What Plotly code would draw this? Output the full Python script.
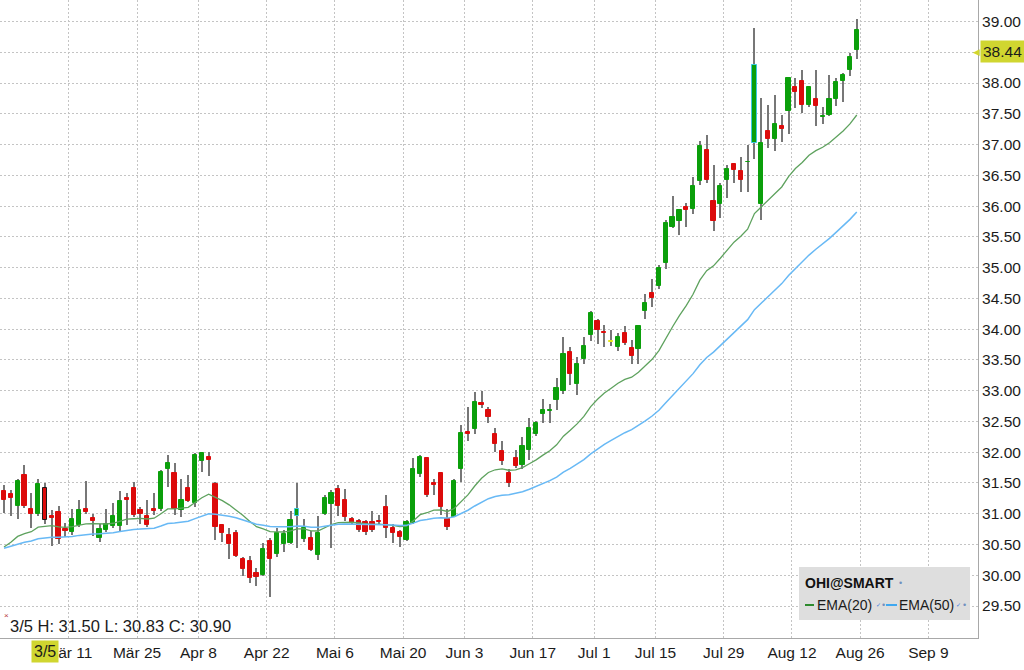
import numpy as np
import plotly.graph_objects as go

# ---------------- data ----------------
DATES = [
    "2024-02-26", "2024-02-27", "2024-02-28", "2024-02-29",
    "2024-03-01", "2024-03-04", "2024-03-05", "2024-03-06", "2024-03-07", "2024-03-08",
    "2024-03-11", "2024-03-12", "2024-03-13", "2024-03-14", "2024-03-15",
    "2024-03-18", "2024-03-19", "2024-03-20", "2024-03-21", "2024-03-22",
    "2024-03-25", "2024-03-26", "2024-03-27", "2024-03-28",
    "2024-04-01", "2024-04-02", "2024-04-03", "2024-04-04", "2024-04-05",
    "2024-04-08", "2024-04-09", "2024-04-10", "2024-04-11", "2024-04-12",
    "2024-04-15", "2024-04-16", "2024-04-17", "2024-04-18", "2024-04-19",
    "2024-04-22", "2024-04-23", "2024-04-24", "2024-04-25", "2024-04-26",
    "2024-04-29", "2024-04-30",
    "2024-05-01", "2024-05-02", "2024-05-03",
    "2024-05-06", "2024-05-07", "2024-05-08", "2024-05-09", "2024-05-10",
    "2024-05-13", "2024-05-14", "2024-05-15", "2024-05-16", "2024-05-17",
    "2024-05-20", "2024-05-21", "2024-05-22", "2024-05-23", "2024-05-24",
    "2024-05-28", "2024-05-29", "2024-05-30", "2024-05-31",
    "2024-06-03", "2024-06-04", "2024-06-05", "2024-06-06", "2024-06-07",
    "2024-06-10", "2024-06-11", "2024-06-12", "2024-06-13", "2024-06-14",
    "2024-06-17", "2024-06-18", "2024-06-20", "2024-06-21",
    "2024-06-24", "2024-06-25", "2024-06-26", "2024-06-27", "2024-06-28",
    "2024-07-01", "2024-07-02", "2024-07-03", "2024-07-05",
    "2024-07-08", "2024-07-09", "2024-07-10", "2024-07-11", "2024-07-12",
    "2024-07-15", "2024-07-16", "2024-07-17", "2024-07-18", "2024-07-19",
    "2024-07-22", "2024-07-23", "2024-07-24", "2024-07-25", "2024-07-26",
    "2024-07-29", "2024-07-30", "2024-07-31",
    "2024-08-01", "2024-08-02",
    "2024-08-05", "2024-08-06", "2024-08-07", "2024-08-08", "2024-08-09",
    "2024-08-12", "2024-08-13", "2024-08-14", "2024-08-15", "2024-08-16",
    "2024-08-19", "2024-08-20", "2024-08-21", "2024-08-22", "2024-08-23",
]

OPEN = [
    31.37, 31.32, 31.12, 31.63, 31.07, 31.00, 31.42, 30.96, 31.02, 30.75,
    30.70, 30.81, 31.07, 30.93, 30.60, 30.74, 30.80, 30.80, 31.26, 31.42,
    31.06, 30.96, 31.08, 31.07, 31.72, 31.67, 31.06, 31.42, 31.17, 31.86,
    31.93, 31.49, 30.81, 30.65, 30.69, 30.26, 30.23, 30.04, 30.00, 30.56,
    30.35, 30.50, 30.53, 30.96, 30.59, 30.61, 30.33, 31.00, 31.15, 31.41,
    31.23, 30.91, 30.88, 30.87, 30.87, 30.88, 31.11, 30.76, 30.70, 30.57,
    30.85, 31.65, 31.90, 31.50, 31.66, 30.91, 30.95, 31.72, 32.33, 32.37,
    32.80, 32.68, 32.29, 32.02, 31.66, 31.91, 31.80, 32.03, 32.29, 32.62,
    32.67, 32.85, 32.99, 33.63, 33.11, 33.52, 33.90, 34.13, 33.96, 33.79,
    33.71, 33.93, 33.69, 33.67, 34.30, 34.58, 34.70, 35.07, 35.66, 35.76,
    35.99, 35.96, 36.40, 36.91, 36.08, 36.03, 36.42, 36.68, 36.57, 36.71,
    37.02, 36.04, 37.22, 37.09, 37.30, 37.54, 37.93, 38.03, 37.65, 37.74,
    37.45, 37.48, 37.74, 38.04, 38.21, 38.54,
]
HIGH = [
    31.46, 31.39, 31.56, 31.79, 31.34, 31.56, 31.50, 31.06, 31.12, 30.85,
    31.07, 31.22, 31.54, 30.99, 30.84, 31.07, 31.17, 31.37, 31.34, 31.52,
    31.11, 31.22, 31.34, 31.71, 31.95, 31.82, 31.57, 31.63, 31.98, 32.00,
    32.00, 31.52, 30.84, 30.76, 30.74, 30.29, 30.31, 30.11, 30.52, 30.61,
    30.76, 30.73, 31.04, 31.50, 30.92, 30.72, 30.96, 31.30, 31.38, 31.47,
    31.40, 30.95, 30.92, 30.89, 31.05, 30.98, 31.30, 30.84, 30.74, 30.89,
    31.90, 31.95, 31.92, 31.57, 31.68, 31.08, 31.57, 32.44, 32.73, 32.98,
    32.99, 32.74, 32.40, 32.18, 31.72, 32.03, 32.25, 32.55, 32.51, 32.86,
    32.79, 33.20, 33.87, 33.71, 33.54, 33.87, 34.30, 34.16, 34.07, 33.98,
    33.94, 34.05, 33.82, 34.06, 34.57, 34.81, 35.05, 35.78, 36.16, 35.95,
    36.05, 36.47, 37.06, 37.15, 36.67, 36.37, 36.67, 36.70, 36.80, 36.99,
    38.89, 37.75, 37.64, 37.80, 37.48, 38.10, 38.08, 38.21, 37.94, 38.22,
    37.61, 38.13, 38.08, 38.17, 38.49, 39.04,
]
LOW = [
    31.01, 30.96, 30.91, 31.10, 30.76, 30.96, 30.83, 30.47, 30.50, 30.62,
    30.65, 30.78, 31.00, 30.63, 30.54, 30.70, 30.76, 30.70, 30.81, 30.95,
    30.84, 30.79, 30.98, 31.04, 31.44, 30.98, 30.95, 31.19, 31.11, 31.68,
    31.61, 30.57, 30.54, 30.27, 30.29, 29.99, 29.87, 29.82, 29.98, 29.65,
    30.29, 30.38, 30.50, 30.44, 30.54, 30.39, 30.24, 30.98, 30.45, 30.96,
    30.88, 30.84, 30.70, 30.65, 30.70, 30.81, 30.60, 30.53, 30.46, 30.55,
    30.84, 31.59, 31.28, 31.31, 30.98, 30.73, 30.94, 31.52, 32.18, 32.30,
    32.72, 32.48, 32.00, 31.80, 31.43, 31.74, 31.72, 31.87, 32.26, 32.48,
    32.47, 32.68, 32.95, 33.09, 32.93, 33.43, 33.81, 33.76, 33.71, 33.72,
    33.64, 33.74, 33.44, 33.44, 34.17, 34.36, 34.65, 34.98, 35.64, 35.53,
    35.66, 35.87, 36.34, 36.38, 35.60, 35.80, 36.13, 36.38, 36.23, 36.23,
    36.76, 35.77, 36.94, 36.90, 37.05, 37.17, 37.59, 37.51, 37.61, 37.31,
    37.34, 37.46, 37.63, 37.69, 38.11, 38.39,
]
CLOSE = [
    31.23, 31.26, 31.53, 31.12, 31.00, 31.48, 30.90, 30.93, 30.59, 30.72,
    30.91, 31.06, 31.02, 30.88, 30.75, 30.84, 30.96, 31.21, 31.22, 30.98,
    30.99, 30.81, 31.05, 31.68, 31.82, 31.08, 31.23, 31.21, 31.95, 31.99,
    31.87, 30.79, 30.68, 30.50, 30.32, 30.10, 29.95, 29.97, 30.42, 30.26,
    30.69, 30.67, 30.89, 31.08, 30.76, 30.41, 30.69, 31.26, 31.34, 31.13,
    30.94, 30.85, 30.74, 30.70, 30.74, 30.86, 30.76, 30.68, 30.62, 30.87,
    31.72, 31.92, 31.31, 31.47, 31.11, 30.78, 31.53, 32.32, 32.30, 32.82,
    32.76, 32.57, 32.14, 31.86, 31.50, 31.78, 32.10, 32.39, 32.48, 32.69,
    32.69, 33.04, 33.60, 33.27, 33.44, 33.73, 34.27, 33.98, 33.93, 33.79,
    33.88, 33.78, 33.56, 34.05, 34.43, 34.50, 35.00, 35.73, 35.83, 35.93,
    35.93, 36.33, 36.98, 36.42, 35.76, 36.33, 36.60, 36.58, 36.43, 36.72,
    38.29, 37.03, 37.09, 37.33, 37.26, 38.09, 37.85, 37.65, 37.93, 37.62,
    37.47, 37.74, 38.02, 38.13, 38.43, 38.86,
]

EMA20_START = 30.46
EMA50_START = 30.44

TICK_DATES = ["2024-03-11", "2024-03-25", "2024-04-08", "2024-04-22", "2024-05-06",
              "2024-05-20", "2024-06-03", "2024-06-17", "2024-07-01", "2024-07-15",
              "2024-07-29", "2024-08-12", "2024-08-26", "2024-09-09"]
TICK_LABELS = ["Mär 11", "Mär 25", "Apr 8", "Apr 22", "Mai 6", "Mai 20", "Jun 3",
               "Jun 17", "Jul 1", "Jul 15", "Jul 29", "Aug 12", "Aug 26", "Sep 9"]
Y_TICKS = [29.5, 30.0, 30.5, 31.0, 31.5, 32.0, 32.5, 33.0, 33.5, 34.0,
           34.5, 35.0, 35.5, 36.0, 36.5, 37.0, 37.5, 38.0, 38.5, 39.0]

SYMBOL = "OHI@SMART"
SELECTED_DATE = "2024-03-05"
SELECTED_LABEL = "3/5"
PRICE_MARKER = 38.44
OUTLINED_DATES = ["2024-04-26", "2024-08-02"]

# ---------------- styles ----------------
GREEN = "#0b9f0b"
RED = "#dc0b0b"
YELLOW = "#e6e61c"
WICK = "#777777"
EMA20_COLOR = "#5ea25e"
EMA50_COLOR = "#68b9f5"
HILITE = "#d0d630"
GRID = "#c4c4c4"
AXIS = "#a8a8a8"
TXT = "#1b1b1b"
FONT = "Liberation Sans, Arial, sans-serif"

N = len(DATES)
xs = list(range(N))


def ema(values, start, n):
    a = 2.0 / (n + 1)
    out = [start]
    for v in values[1:]:
        out.append(out[-1] + a * (v - out[-1]))
    return out


ema20 = ema(CLOSE, EMA20_START, 20)
ema50 = ema(CLOSE, EMA50_START, 50)

body_base = [min(o, c) for o, c in zip(OPEN, CLOSE)]
body_h = [max(abs(c - o), 0.012) for o, c in zip(OPEN, CLOSE)]
body_col = [GREEN if c > o else (RED if c < o else YELLOW) for o, c in zip(OPEN, CLOSE)]
line_col = list(body_col)
sel = DATES.index(SELECTED_DATE)
line_col[sel] = "#1a1a1a"
for d in OUTLINED_DATES:
    line_col[DATES.index(d)] = "#3cc8e0"


def slot(d):
    if d in DATES:
        return DATES.index(d)
    return N - 1 + int(np.busday_count(DATES[-1], d))


tick_pos = [slot(d) - 0.5 for d in TICK_DATES]

fig = go.Figure()
fig.add_trace(go.Bar(x=xs, base=LOW, y=[h - l for h, l in zip(HIGH, LOW)], width=0.15,
                     marker=dict(color=WICK, line=dict(width=0)), hoverinfo="skip"))
fig.add_trace(go.Bar(x=xs, base=body_base, y=body_h, width=0.62,
                     marker=dict(color=body_col, line=dict(color=line_col, width=1))))
fig.add_trace(go.Scatter(x=xs, y=ema20, mode="lines", line=dict(color=EMA20_COLOR, width=1.3)))
fig.add_trace(go.Scatter(x=xs, y=ema50, mode="lines", line=dict(color=EMA50_COLOR, width=1.5)))

W, H = 978, 638


def px(x):
    return x / W


def py(y):
    return 1 - y / H


shapes = [
    dict(type="rect", xref="paper", yref="paper", x0=px(799), x1=px(970), y0=py(620), y1=py(567),
         fillcolor="#dedede", line=dict(width=0), layer="above"),
    dict(type="line", xref="paper", yref="paper", x0=px(805), x1=px(814), y0=py(605), y1=py(605),
         line=dict(color="#2e8b2e", width=2), layer="above"),
    dict(type="line", xref="paper", yref="paper", x0=px(886), x1=px(897), y0=py(605), y1=py(605),
         line=dict(color="#3fa8f0", width=2), layer="above"),
]

info = f"{SELECTED_LABEL} H: {HIGH[sel]:.2f} L: {LOW[sel]:.2f} C: {CLOSE[sel]:.2f}"

ann = [
    dict(text=f"<b>{SYMBOL}</b>", xref="paper", yref="paper", x=px(803), y=py(583),
         xanchor="left", yanchor="middle", showarrow=False, font=dict(size=14, color="#111")),
    dict(text="•", xref="paper", yref="paper", x=px(897), y=py(583), xanchor="left", yanchor="middle",
         showarrow=False, font=dict(size=9, color="#7090c0")),
    dict(text="EMA(20)", xref="paper", yref="paper", x=px(815), y=py(605), xanchor="left",
         yanchor="middle", showarrow=False, font=dict(size=14, color=TXT)),
    dict(text="✓", xref="paper", yref="paper", x=px(874), y=py(605), xanchor="left", yanchor="middle",
         showarrow=False, font=dict(size=6, color="#3d7be0")),
    dict(text="•", xref="paper", yref="paper", x=px(880), y=py(605), xanchor="left", yanchor="middle",
         showarrow=False, font=dict(size=9, color="#7090c0")),
    dict(text="EMA(50)", xref="paper", yref="paper", x=px(897), y=py(605), xanchor="left",
         yanchor="middle", showarrow=False, font=dict(size=14, color=TXT)),
    dict(text="✓", xref="paper", yref="paper", x=px(954), y=py(605), xanchor="left", yanchor="middle",
         showarrow=False, font=dict(size=6, color="#3d7be0")),
    dict(text="•", xref="paper", yref="paper", x=px(961), y=py(605), xanchor="left", yanchor="middle",
         showarrow=False, font=dict(size=9, color="#7090c0")),
    # info line
    dict(text="×", xref="paper", yref="paper", x=px(2), y=py(615), xanchor="left", yanchor="middle",
         showarrow=False, font=dict(size=8, color="#b83a3a")),
    dict(text=info, xref="paper", yref="paper", x=px(8), y=py(626), xanchor="left", yanchor="middle",
         showarrow=False, font=dict(size=16.5, color=TXT)),
    # selected-date label on the x axis
    dict(text=SELECTED_LABEL, xref="x", yref="paper", x=sel, y=0, xanchor="center", yanchor="top",
         yshift=-2, showarrow=False, bgcolor=HILITE, borderpad=2, font=dict(size=16, color=TXT)),
    dict(text="▲", xref="x", yref="paper", x=sel, y=0, xanchor="center", yanchor="top",
         yshift=1, showarrow=False, font=dict(size=6, color=HILITE)),
    # price marker on the y axis
    dict(text=f"{PRICE_MARKER:.2f}", xref="paper", yref="y", x=1, y=PRICE_MARKER, xanchor="left",
         yanchor="middle", xshift=2, yshift=4, showarrow=False, bgcolor=HILITE, borderpad=2,
         font=dict(size=15.5, color=TXT)),
    dict(text="◀", xref="paper", yref="y", x=1, y=PRICE_MARKER, xanchor="right", yanchor="middle",
         xshift=4, yshift=4, showarrow=False, font=dict(size=9, color=HILITE)),
]

fig.update_layout(
    width=1024, height=670,
    margin=dict(l=0, r=46, t=0, b=32),
    plot_bgcolor="white", paper_bgcolor="white",
    barmode="overlay", bargap=0, showlegend=False,
    font=dict(family=FONT, size=15.5, color=TXT),
    shapes=shapes, annotations=ann,
    xaxis=dict(range=[-0.59, 142.77], tickmode="array", tickvals=tick_pos, ticktext=TICK_LABELS,
               showgrid=True, gridcolor=GRID, griddash="2px,2px", gridwidth=1,
               showline=True, linecolor=AXIS, linewidth=1, ticks="", zeroline=False,
               tickfont=dict(size=15.5, color=TXT), ticklabelstandoff=0),
    yaxis=dict(side="right", range=[28.98, 39.35], tickmode="array", tickvals=Y_TICKS,
               tickformat=".2f", showgrid=True, gridcolor=GRID, griddash="2px,2px", gridwidth=1,
               showline=True, linecolor=AXIS, linewidth=1, ticks="", zeroline=False,
               tickfont=dict(size=15.5, color=TXT)),
)

fig.write_html("out.html")
